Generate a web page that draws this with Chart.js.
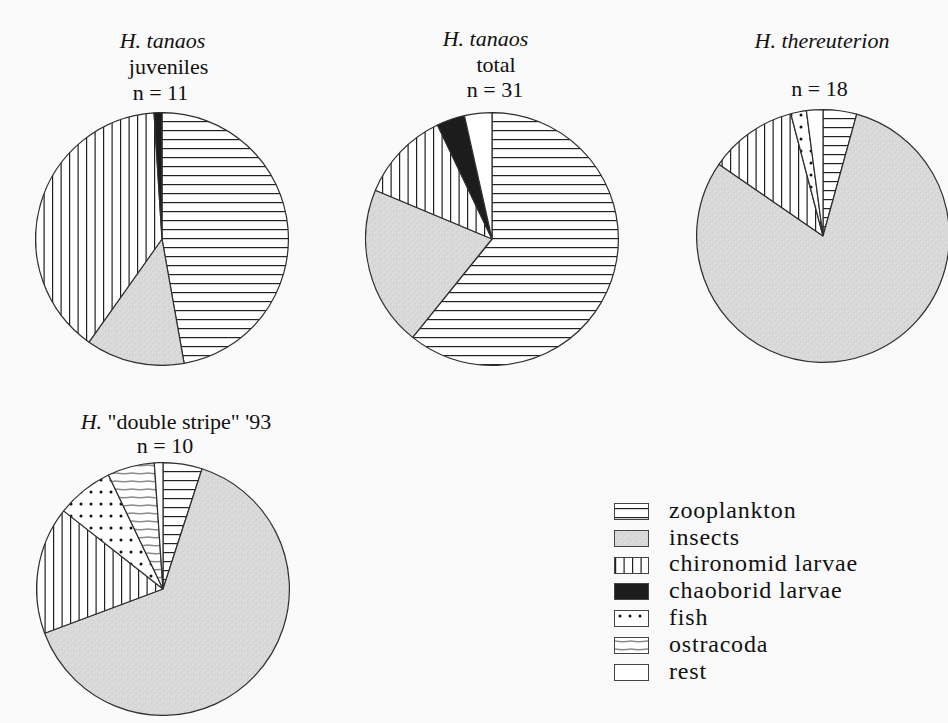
<!DOCTYPE html>
<html>
<head>
<meta charset="utf-8">
<script src="https://cdn.jsdelivr.net/npm/chart.js@4"></script>
<style>
  html, body { margin: 0; padding: 0; }
  body { width: 948px; height: 723px; background: #fafafa; position: relative; overflow: hidden;
         font-family: "Liberation Serif", serif; color: #111; }
  canvas.pie { position: absolute; }
  .lbl { position: absolute; width: 320px; text-align: center; white-space: nowrap;
         font-size: 22px; line-height: 26px; }
  .leg { position: absolute; left: 614px; width: 320px; height: 26px; }
  .leg .sw { position: absolute; left: 0; width: 33px; height: 15px; border: 1px solid #444; }
  .leg .tx { position: absolute; left: 55px; top: 0; font-size: 24px; line-height: 26px; letter-spacing: 0.8px; white-space: nowrap; }
</style>
</head>
<body>
<script>
// food categories, same order in every pie (clockwise from 12 o'clock)
const categories = ['zooplankton', 'insects', 'chironomid larvae', 'chaoborid larvae', 'fish', 'ostracoda', 'rest'];

// % of diet
const juvenilesValues    = [47.2, 12.6, 39.2, 1.0, 0,   0,   0];
const totalValues        = [60.8, 20.5, 11.6, 3.6, 0,   0,   3.5];
const thereuterionValues = [4.3,  80.3, 11.3, 0,   2.0, 0,   2.1];
const doubleStripeValues = [5.0,  64.3, 16.3, 0,   7.3, 6.0, 1.1];

const sampleSizes = [11, 31, 18, 10];

// ---- fill patterns ----
function tile(w, h, draw) {
    const c = document.createElement('canvas');
    c.width = w; c.height = h;
    const g = c.getContext('2d');
    draw(g, w, h);
    return c;
}

const tiles = {
    'zooplankton': tile(9, 9, (g, w, h) => {
        g.fillStyle = '#fff'; g.fillRect(0, 0, w, h);
        g.fillStyle = '#222'; g.fillRect(0, 0, w, 1.2);
    }),
    'insects': tile(6, 6, (g, w, h) => {
        g.fillStyle = '#d9d9d9'; g.fillRect(0, 0, w, h);
        g.fillStyle = '#cbcbcb'; g.fillRect(1, 1, 1, 1); g.fillRect(4, 3, 1, 1); g.fillRect(2, 5, 1, 1);
        g.fillStyle = '#e4e4e4'; g.fillRect(3, 0, 1, 1); g.fillRect(0, 4, 1, 1);
    }),
    'chironomid larvae': tile(17, 4, (g, w, h) => {
        g.fillStyle = '#fff'; g.fillRect(0, 0, w, h);
        g.fillStyle = '#222'; g.fillRect(0, 0, 1.2, h); g.fillRect(8.5, 0, 1.2, h);
    }),
    'chaoborid larvae': tile(4, 4, (g, w, h) => {
        g.fillStyle = '#1c1c1c'; g.fillRect(0, 0, w, h);
    }),
    'fish': tile(10, 12, (g, w, h) => {
        g.fillStyle = '#fff'; g.fillRect(0, 0, w, h);
        g.fillStyle = '#111'; g.beginPath(); g.arc(5, 6, 1.5, 0, Math.PI * 2); g.fill();
    }),
    'ostracoda': tile(16, 8, (g, w, h) => {
        g.fillStyle = '#fff'; g.fillRect(0, 0, w, h);
        g.strokeStyle = '#8a8a8a'; g.lineWidth = 1.6;
        g.beginPath(); g.moveTo(0, 3); g.quadraticCurveTo(8, 4.5, 16, 3); g.stroke();
    }),
    'rest': tile(4, 4, (g, w, h) => {
        g.fillStyle = '#fff'; g.fillRect(0, 0, w, h);
    })
};

const probe = document.createElement('canvas').getContext('2d');
const fills = {};
categories.forEach(c => { fills[c] = probe.createPattern(tiles[c], 'repeat'); });

// ---- pies ----
const R = 127;
function drawPie(values, cx, cy) {
    const canvas = document.createElement('canvas');
    canvas.className = 'pie';
    canvas.width = 2 * R; canvas.height = 2 * R;
    canvas.style.left = (cx - R) + 'px';
    canvas.style.top = (cy - R) + 'px';
    document.body.appendChild(canvas);

    const labels = categories.filter((c, i) => values[i] > 0);
    const data = values.filter(v => v > 0);

    return new Chart(canvas.getContext('2d'), {
        type: 'pie',
        data: {
            labels: labels,
            datasets: [{
                data: data,
                backgroundColor: labels.map(l => fills[l]),
                borderColor: '#2e2e2e',
                borderWidth: 1.2,
                hoverOffset: 0,
                offset: 0
            }]
        },
        options: {
            responsive: false,
            animation: false,
            events: [],
            layout: { padding: 0 },
            plugins: {
                legend: { display: false },
                tooltip: { enabled: false },
                title: { display: false }
            }
        }
    });
}

drawPie(juvenilesValues, 162, 239);
drawPie(totalValues, 492, 239);
drawPie(thereuterionValues, 823, 236);
drawPie(doubleStripeValues, 163, 589);

// ---- titles (text lines placed by centre x and baseline) ----
function label(html, cx, baseline) {
    const d = document.createElement('div');
    d.className = 'lbl';
    d.innerHTML = html;
    d.style.left = (cx - 160) + 'px';
    d.style.top = (baseline - 20.4) + 'px';
    document.body.appendChild(d);
}

label('<i>H. tanaos</i>', 162.5, 48);
label('juveniles', 168.5, 74);
label('n = ' + sampleSizes[0], 160.5, 100);

label('<i>H. tanaos</i>', 485.5, 46);
label('total', 496, 72.5);
label('n = ' + sampleSizes[1], 495, 97);

label('<i>H. thereuterion</i>', 822, 48);
label('n = ' + sampleSizes[2], 819.5, 96);

label('<i>H.</i> "double stripe" \'93', 176, 429);
label('n = ' + sampleSizes[3], 165, 453);

// ---- legend ----
categories.forEach((c, i) => {
    const yc = 512 + i * 26.8;
    const row = document.createElement('div');
    row.className = 'leg';
    row.style.top = (yc - 13) + 'px';
    const sw = document.createElement('div');
    sw.className = 'sw';
    sw.style.top = '4px';
    sw.style.background = 'url(' + tiles[c].toDataURL() + ')';
    sw.style.backgroundPosition = c === 'fish' ? '0 -1px' : (c === 'zooplankton' ? '0 4px' : '0 0');
    const tx = document.createElement('div');
    tx.className = 'tx';
    tx.style.top = (6 + 13 - 21.3) + 'px';
    tx.textContent = c;
    row.appendChild(sw);
    row.appendChild(tx);
    document.body.appendChild(row);
});
</script>
</body>
</html>
